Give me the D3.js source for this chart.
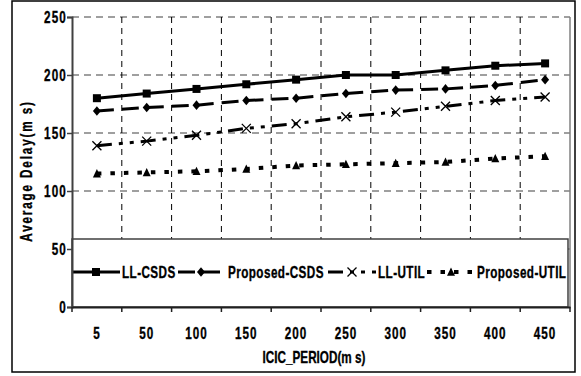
<!DOCTYPE html>
<html><head><meta charset="utf-8">
<script src="https://cdn.jsdelivr.net/npm/d3@7"></script>
<style>
html,body{margin:0;padding:0;background:#fff;}
svg{display:block;}
text{font-family:"Liberation Sans",Arial,sans-serif;font-weight:bold;fill:#000;stroke:#000;stroke-width:0.35px;}
</style></head>
<body>
<svg id="chart" width="581" height="376"></svg>
<script>
const categories = ["5","50","100","150","200","250","300","350","400","450"];
const llCsds       = [180,184,188,192,196,200,200,204,208,210];
const proposedCsds = [169,172,174,178,180,184,187,188,191,196];
const llUtil       = [139,143,148,154,158,164,168,173,178,181];
const proposedUtil = [115,116,117,119,122,123,124,125,128,130];
const yTicks = [0,50,100,150,200,250];
const seriesNames = ["LL-CSDS","Proposed-CSDS","LL-UTIL","Proposed-UTIL"];

const SX = 0.71;
const FS = 16.5;
const svg = d3.select("#chart");
const L = 72, R = 570, T = 17, B = 307;

const x = d3.scaleBand().domain(categories).range([L, R]).padding(0);
const y = d3.scaleLinear().domain([0, 250]).range([B, T]);

// outer frame
svg.append("rect").attr("x",12).attr("y",1).attr("width",563).attr("height",371)
  .attr("fill","none").attr("stroke","#000").attr("stroke-width",1.5);

// horizontal grid
svg.append("g").selectAll("line").data(yTicks.filter(d=>d>0)).join("line")
  .attr("x1",L).attr("x2",R).attr("y1",d=>y(d)).attr("y2",d=>y(d))
  .attr("stroke","#808080").attr("stroke-width",1.5).attr("stroke-dasharray","7,5");

// vertical grid at band boundaries
const inner = categories.slice(1).map(c => x(c));
svg.append("g").selectAll("line").data(inner).join("line")
  .attr("x1",d=>d).attr("x2",d=>d).attr("y1",T).attr("y2",B)
  .attr("stroke","#000").attr("stroke-width",1).attr("stroke-dasharray","6,5");

// right border of plot area
svg.append("line").attr("x1",R).attr("x2",R).attr("y1",T).attr("y2",B)
  .attr("stroke","#808080").attr("stroke-width",1.5);

// series
const series = [
  {name:seriesNames[0], vals:llCsds, dash:null, w:3, marker:"square"},
  {name:seriesNames[1], vals:proposedCsds, dash:"17,8", w:3, marker:"diamond"},
  {name:seriesNames[2], vals:llUtil, dash:"15,7,4,7,4,7", w:3, marker:"x"},
  {name:seriesNames[3], vals:proposedUtil, dash:"4.5,9", w:4, marker:"triangle"}
];
const line = d3.line().x((d,i)=>x(categories[i]) + x.bandwidth()/2).y(d=>y(d));

function drawMarker(g, type, cx, cy) {
  if (type === "square") {
    g.append("rect").attr("x",cx-4).attr("y",cy-4).attr("width",8).attr("height",8).attr("fill","#000");
  } else if (type === "diamond") {
    g.append("path").attr("d",`M${cx},${cy-4.8}L${cx+4},${cy}L${cx},${cy+4.8}L${cx-4},${cy}Z`).attr("fill","#000");
  } else if (type === "triangle") {
    g.append("path").attr("d",`M${cx},${cy-4.5}L${cx+4},${cy+3.8}L${cx-4},${cy+3.8}Z`).attr("fill","#000");
  } else if (type === "x") {
    g.append("path").attr("d",`M${cx-4.5},${cy-4.5}L${cx+4.5},${cy+4.5}M${cx+4.5},${cy-4.5}L${cx-4.5},${cy+4.5}`)
      .attr("stroke","#000").attr("stroke-width",1.3).attr("fill","none");
  }
}

const sg = svg.append("g");
series.forEach(s => {
  sg.append("path").attr("d", line(s.vals)).attr("fill","none").attr("stroke","#000")
    .attr("stroke-width", s.w).attr("stroke-dasharray", s.dash);
  s.vals.forEach((v,i) => drawMarker(sg, s.marker, x(categories[i]) + x.bandwidth()/2, y(v)));
});

// legend box
const lg = svg.append("g");
lg.append("rect").attr("x",L).attr("y",239).attr("width",496).attr("height",B-239)
  .attr("fill","#fff").attr("stroke","#404040").attr("stroke-width",1.5);
const legendPos = [
  {x1:72, x2:120, tx:122},
  {x1:178, x2:224, tx:228},
  {x1:328, x2:376, tx:378},
  {x1:427, x2:475, tx:477}
];
const ly = 272;
series.forEach((s,i) => {
  const p = legendPos[i];
  lg.append("line").attr("x1",p.x1).attr("x2",p.x2).attr("y1",ly).attr("y2",ly)
    .attr("stroke","#000").attr("stroke-width",s.w).attr("stroke-dasharray",s.dash);
  drawMarker(lg, s.marker, (p.x1+p.x2)/2, ly);
  lg.append("text").attr("transform",`translate(${p.tx},${ly+6}) scale(${SX},1)`)
    .attr("font-size",FS).attr("letter-spacing",0.6).text(s.name);
});

// y axis
const yAxis = svg.append("g").attr("transform",`translate(${L},0)`)
  .call(d3.axisLeft(y).tickValues(yTicks).tickSize(5).tickPadding(5));
yAxis.select(".domain").attr("stroke","#404040").attr("stroke-width",2);
yAxis.selectAll(".tick line").attr("stroke","#404040").attr("stroke-width",1.5);
yAxis.selectAll(".tick text").attr("font-size",FS).attr("font-family",null)
  .attr("x",-5/SX).attr("dy","0.36em").attr("letter-spacing",1.6)
  .attr("transform",`scale(${SX},1)`);

// x axis
const xAxis = svg.append("g").attr("transform",`translate(0,${B})`)
  .call(d3.axisBottom(x).tickSize(0).tickPadding(20));
xAxis.select(".domain").attr("stroke","#202020").attr("stroke-width",2);
xAxis.selectAll(".tick text").attr("font-size",FS).attr("font-family",null)
  .attr("letter-spacing",1.4).attr("x",0)
  .attr("transform",`scale(${SX},1)`);
// tick marks at band boundaries
svg.append("g").selectAll("line").data(categories.map(c=>x(c)).concat([R])).join("line")
  .attr("x1",d=>d).attr("x2",d=>d).attr("y1",B).attr("y2",B+5)
  .attr("stroke","#202020").attr("stroke-width",1.5);

// axis titles
svg.append("text").attr("transform",`translate(314,363) scale(${SX},1)`)
  .attr("text-anchor","middle").attr("font-size",FS).text("ICIC_PERIOD(m s)");
svg.append("text").attr("transform",`translate(32,171) rotate(-90) scale(${SX},1)`)
  .attr("text-anchor","middle").attr("font-size",FS).attr("letter-spacing",2.6).text("Average Delay(m s)");
</script>
</body></html>
